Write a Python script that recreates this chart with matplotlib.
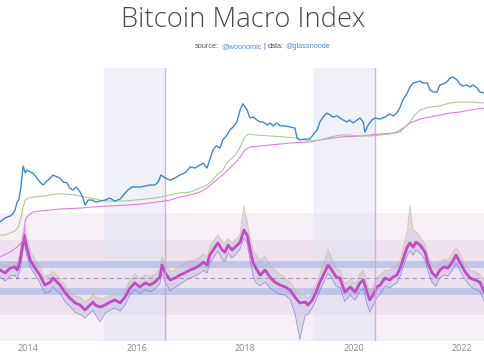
import matplotlib
matplotlib.use("Agg")
import matplotlib.pyplot as plt

# bitcoin price (USD, log axis)
price_years = [2013.48, 2013.58, 2013.67, 2013.72, 2013.76, 2013.80, 2013.83, 2013.87, 2013.91, 2013.95,
               2013.98, 2014.04, 2014.09, 2014.15, 2014.22, 2014.28, 2014.33, 2014.41, 2014.46, 2014.54,
               2014.59, 2014.65, 2014.72, 2014.77, 2014.83, 2014.89, 2014.96, 2015.01, 2015.05, 2015.11,
               2015.18, 2015.25, 2015.33, 2015.42, 2015.51, 2015.60, 2015.70, 2015.79, 2015.84, 2015.92,
               2015.97, 2016.07, 2016.16, 2016.25, 2016.34, 2016.40, 2016.45, 2016.53, 2016.62, 2016.71,
               2016.80, 2016.89, 2016.99, 2017.08, 2017.17, 2017.23, 2017.30, 2017.36, 2017.41, 2017.47,
               2017.54, 2017.59, 2017.67, 2017.72, 2017.78, 2017.85, 2017.91, 2017.96, 2018.04, 2018.09,
               2018.15, 2018.22, 2018.28, 2018.33, 2018.41, 2018.46, 2018.52, 2018.59, 2018.65, 2018.74,
               2018.83, 2018.92, 2018.96, 2019.01, 2019.11, 2019.20, 2019.25, 2019.33, 2019.38, 2019.44,
               2019.51, 2019.57, 2019.62, 2019.70, 2019.75, 2019.81, 2019.88, 2019.93, 2019.99, 2020.07,
               2020.12, 2020.18, 2020.21, 2020.27, 2020.34, 2020.40, 2020.49, 2020.58, 2020.67, 2020.73,
               2020.80, 2020.86, 2020.91, 2020.99, 2021.04, 2021.10, 2021.17, 2021.23, 2021.28, 2021.36,
               2021.41, 2021.47, 2021.54, 2021.59, 2021.65, 2021.72, 2021.78, 2021.83, 2021.91, 2021.96,
               2022.02, 2022.09, 2022.15, 2022.20, 2022.28, 2022.33, 2022.42]
price_usd = [71, 86, 94, 104, 125, 182, 200, 371, 998, 718,
             826, 752, 718, 594, 469, 407, 469, 566, 653, 594,
             566, 469, 448, 353, 321, 371, 292, 231, 158, 200,
             200, 182, 191, 200, 220, 191, 210, 279, 321, 371,
             371, 371, 388, 407, 407, 469, 653, 566, 515, 566,
             653, 718, 952, 908, 1047, 1149, 908, 1455, 2122, 2564,
             2333, 3404, 4306, 5458, 6281, 7955, 14030, 18700, 14030, 9610,
             10070, 8750, 7955, 7955, 6900, 7590, 6590, 7590, 6590, 6590,
             6281, 6000, 3740, 3404, 3565, 3565, 4306, 5458, 7955, 10070,
             12160, 11070, 10070, 10570, 9610, 8750, 7955, 8750, 7590, 8750,
             9610, 7955, 4965, 6900, 8750, 9610, 9160, 10070, 11610, 10570,
             12160, 16140, 22440, 31260, 41480, 50120, 52480, 55080, 50120, 50120,
             35980, 32740, 32740, 45600, 47750, 52480, 63400, 66500, 57700, 47750,
             43450, 45600, 41480, 45600, 39550, 32740, 31260]

# green moving average
green_years = [2013.48, 2013.58, 2013.67, 2013.76, 2013.82, 2013.87, 2013.91, 2013.95, 2014.00, 2014.13,
               2014.31, 2014.50, 2014.68, 2014.87, 2015.05, 2015.24, 2015.42, 2015.60, 2015.79, 2015.97,
               2016.16, 2016.34, 2016.53, 2016.62, 2016.80, 2016.99, 2017.17, 2017.30, 2017.41, 2017.48,
               2017.59, 2017.67, 2017.72, 2017.82, 2017.91, 2018.00, 2018.06, 2018.18, 2018.46, 2018.74,
               2018.92, 2019.01, 2019.20, 2019.38, 2019.57, 2019.75, 2019.93, 2020.12, 2020.30, 2020.49,
               2020.67, 2020.86, 2020.95, 2021.04, 2021.13, 2021.23, 2021.41, 2021.59, 2021.78, 2021.96,
               2022.15, 2022.42]
green_usd = [38.5, 38.5, 42.3, 46.5, 56.1, 85.7, 144, 200, 220, 231,
             242, 266, 266, 254, 231, 210, 191, 191, 191, 200,
             210, 220, 242, 254, 279, 292, 353, 407, 515, 653,
             826, 1149, 1324, 1675, 2445, 3920, 4520, 4306, 4110, 3920,
             3740, 3565, 3245, 3404, 3920, 4306, 4306, 4110, 4110, 4306,
             4520, 4965, 6281, 7955, 11070, 14030, 16140, 16940, 19500, 20420,
             20420, 19500]

# pink (realized-type) price
pink_years = [2013.48, 2013.67, 2013.80, 2013.89, 2013.93, 2013.95, 2013.98, 2014.09, 2014.22, 2014.59,
              2014.96, 2015.33, 2015.70, 2016.06, 2016.43, 2016.62, 2016.80, 2016.99, 2017.17, 2017.30,
              2017.41, 2017.54, 2017.63, 2017.72, 2017.82, 2017.91, 2018.00, 2018.09, 2018.28, 2018.46,
              2018.83, 2019.20, 2019.38, 2019.75, 2020.12, 2020.49, 2020.76, 2020.86, 2020.95, 2021.04,
              2021.23, 2021.41, 2021.59, 2021.78, 2021.96, 2022.15, 2022.42]
pink_usd = [13.6, 17.3, 21.8, 27.7, 44.4, 78, 90, 114, 119, 131,
            137, 148, 155, 165, 185, 200, 231, 254, 292, 353,
            448, 594, 718, 908, 1149, 1524, 2122, 2445, 2564, 2685,
            2950, 3097, 3404, 3920, 4110, 4520, 4730, 5458, 6281, 7590,
            9160, 10070, 11070, 12160, 12760, 14030, 15400]

# macro index (z-score like units) with spread of the components
idx_years = [2013.48, 2013.58, 2013.67, 2013.76, 2013.80, 2013.85, 2013.93, 2013.98, 2014.04, 2014.13,
             2014.22, 2014.31, 2014.41, 2014.46, 2014.50, 2014.59, 2014.68, 2014.77, 2014.87, 2014.96,
             2015.05, 2015.14, 2015.20, 2015.24, 2015.33, 2015.42, 2015.51, 2015.60, 2015.70, 2015.79,
             2015.88, 2015.97, 2016.06, 2016.16, 2016.25, 2016.34, 2016.43, 2016.47, 2016.53, 2016.62,
             2016.71, 2016.80, 2016.89, 2016.99, 2017.08, 2017.17, 2017.23, 2017.30, 2017.35, 2017.45,
             2017.50, 2017.58, 2017.63, 2017.69, 2017.76, 2017.82, 2017.91, 2017.98, 2018.04, 2018.09,
             2018.15, 2018.20, 2018.28, 2018.37, 2018.46, 2018.55, 2018.65, 2018.74, 2018.83, 2018.92,
             2019.01, 2019.11, 2019.16, 2019.24, 2019.31, 2019.38, 2019.47, 2019.53, 2019.60, 2019.68,
             2019.75, 2019.84, 2019.94, 2020.03, 2020.12, 2020.18, 2020.25, 2020.30, 2020.36, 2020.43,
             2020.49, 2020.58, 2020.67, 2020.73, 2020.80, 2020.86, 2020.91, 2020.99, 2021.04, 2021.10,
             2021.15, 2021.23, 2021.32, 2021.37, 2021.45, 2021.52, 2021.59, 2021.67, 2021.74, 2021.82,
             2021.89, 2021.96, 2022.06, 2022.15, 2022.24, 2022.33, 2022.42]
idx_vals = [0.28, 0.17, 0.35, 0.39, 0.28, 0.57, 1.57, 1.09, 0.65, 0.35,
            0.09, -0.28, -0.17, -0.02, -0.09, -0.28, -0.54, -0.76, -0.94, -1.02,
            -1.20, -1.02, -0.91, -1.02, -1.09, -1.02, -0.91, -0.83, -0.94, -0.72,
            -0.39, -0.20, -0.35, -0.20, -0.28, -0.17, 0.02, 0.46, 0.17, -0.09,
            -0.02, 0.09, 0.17, 0.28, 0.35, 0.46, 0.57, 0.46, 0.83, 1.13,
            1.28, 1.02, 0.94, 1.20, 1.02, 1.13, 1.31, 1.76, 1.57, 1.09,
            0.54, 0.35, 0.09, 0.28, 0.02, -0.17, -0.28, -0.35, -0.46, -0.72,
            -0.94, -0.91, -1.02, -0.83, -0.54, -0.17, 0.20, 0.46, 0.28, 0.02,
            -0.02, -0.54, -0.35, -0.54, -0.20, -0.09, -0.54, -0.83, -0.65, -0.35,
            -0.28, -0.02, -0.09, 0.02, 0.09, 0.35, 0.65, 1.13, 1.28, 1.13,
            1.31, 1.20, 0.94, 0.54, 0.17, 0.02, 0.28, 0.39, 0.35, 0.57,
            0.83, 0.57, 0.20, -0.02, -0.09, -0.17, -0.57]
idx_up = [.25, .25, .2, .2, .25, .3, .35, .4, .35, .3,
          .3, .3, .3, .25, .25, .25, .25, .25, .25, .3,
          .3, .25, .3, .3, .3, .25, .25, .25, .25, .25,
          .3, .35, .3, .3, .3, .3, .3, .3, .3, .3,
          .3, .35, .35, .35, .3, .3, .3, .3, .3, .3,
          .3, .3, .3, .25, .25, .25, .3, .9, .5, .45,
          .5, .5, .55, .5, .45, .45, .4, .35, .3, .3,
          .3, .25, .25, .25, .3, .3, .45, .6, .4, .3,
          .3, .3, .3, .3, .35, .35, .3, .3, .3, .35,
          .35, .3, .35, .4, .3, .3, .35, .6, 1.4, .6,
          .4, .3, .3, .3, .3, .3, .3, .3, .3, .3,
          .3, .3, .3, .3, .3, .3, .3]
idx_dn = [.25, .3, .3, .3, .35, .3, .3, .3, .25, .25,
          .3, .3, .35, .3, .35, .3, .35, .3, .35, .35,
          .3, .3, .3, .35, .55, .3, .3, .3, .3, .3,
          .25, .25, .25, .25, .25, .25, .25, .3, .35, .4,
          .35, .35, .3, .3, .3, .3, .3, .3, .3, .3,
          .3, .35, .35, .3, .3, .3, .25, .3, .3, .4,
          .5, .55, .4, .45, .4, .35, .35, .3, .35, .6,
          1.35, .5, .35, .3, .3, .3, .3, .3, .3, .35,
          .35, .35, .3, .3, .3, .3, .45, .45, .4, .4,
          .35, .3, .3, .3, .3, .3, .3, .3, .3, .3,
          .3, .3, .3, .3, .35, .35, .3, .3, .3, .3,
          .3, .3, .3, .3, .35, .35, .35]

tick_years = [2014, 2016, 2018, 2020, 2022]
tick_labels = ["2014", "2016", "2018", "2020", "2022"]
shade_spans = [(2015.40, 2016.525), (2019.25, 2020.396)]
halvings = [2016.525, 2020.396]

fig = plt.figure(figsize=(4.85, 3.6), dpi=100)
ax = fig.add_axes([0, 0.0528, 1, 0.7583])
ax2 = ax.twinx()

# index panel bands
ax.axhspan(-2.4, 2.4, color="#a050a0", alpha=0.09, lw=0)
ax.axhspan(-1.4, 1.4, color="#a050a0", alpha=0.08, lw=0)
for y in (0.5, -0.5):
    ax.axhline(y, color="#aab6e8", lw=5, alpha=0.65)
ax.axhline(0, color="#a89aa8", lw=0.8, ls=(0, (4, 3)))

for a, b in shade_spans:
    ax.axvspan(a, b, color="#dfe2f0", alpha=0.45, lw=0)

lo = [v - d for v, d in zip(idx_vals, idx_dn)]
hi = [v + u for v, u in zip(idx_vals, idx_up)]
ax.fill_between(idx_years, lo, hi, color="#b4b8d6", alpha=0.4, lw=0)
ax.plot(idx_years, hi, color="#e2aa7a", lw=0.6, alpha=0.6)
ax.plot(idx_years, lo, color="#6a62d8", lw=0.6, alpha=0.6)
ax.plot(idx_years, idx_vals, color="#c24ac2", lw=2)
ax.set_ylim(-2.35, 7.76)

# price panel
for h in halvings:
    ax2.axvline(h, color="#d996de", lw=1.0, alpha=0.8)
ax2.plot(pink_years, pink_usd, color="#dd80e0", lw=0.8)
ax2.plot(green_years, green_usd, color="#a6cc94", lw=0.8)
ax2.plot(price_years, price_usd, color="#3f88c5", lw=1.0)
ax2.set_yscale("log")
ax2.set_ylim(0.259, 101600)

ax.set_xlim(2013.484, 2022.424)
for a in (ax, ax2):
    for s in a.spines.values():
        s.set_visible(False)
    a.set_yticks([])
    a.set_yticks([], minor=True)
ax.set_xticks(tick_years)
ax.set_xticklabels(tick_labels)
ax.tick_params(axis="x", length=0, labelsize=6.5, colors="#888888", pad=2.5)
for t in ax.get_xticklabels():
    t.set_fontfamily("Open Sans")

fig.text(0.502, 1 - 27 / 360, "Bitcoin Macro Index", ha="center", va="baseline",
         fontsize=19.8, fontfamily="Open Sans", fontweight="light", color="#4a4a4a")

# subtitle with coloured handles
parts = [("source:", "#555555"), ("@woonomic", "#5a87d0"), ("|", "#555555"),
         ("data:", "#555555"), ("@glassnoode", "#5a87d0")]
sub_kw = dict(fontsize=5.3, fontfamily="Liberation Sans", va="center", ha="left")
fig.canvas.draw()
r = fig.canvas.get_renderer()

pieces = [fig.text(0, 1 - 47 / 360, s, color=c, **sub_kw) for s, c in parts]
widths = [p.get_window_extent(r).width for p in pieces]
sp1 = fig.text(0, 0, "a a", **sub_kw)
sp2 = fig.text(0, 0, "aa", **sub_kw)
space = sp1.get_window_extent(r).width - sp2.get_window_extent(r).width
sp1.remove()
sp2.remove()
total = sum(widths) + space * (len(pieces) - 1)
x = 262.5 - total / 2
for p, w in zip(pieces, widths):
    p.set_x(x / 485)
    x += w + space

fig.savefig("out.png", dpi=100)
